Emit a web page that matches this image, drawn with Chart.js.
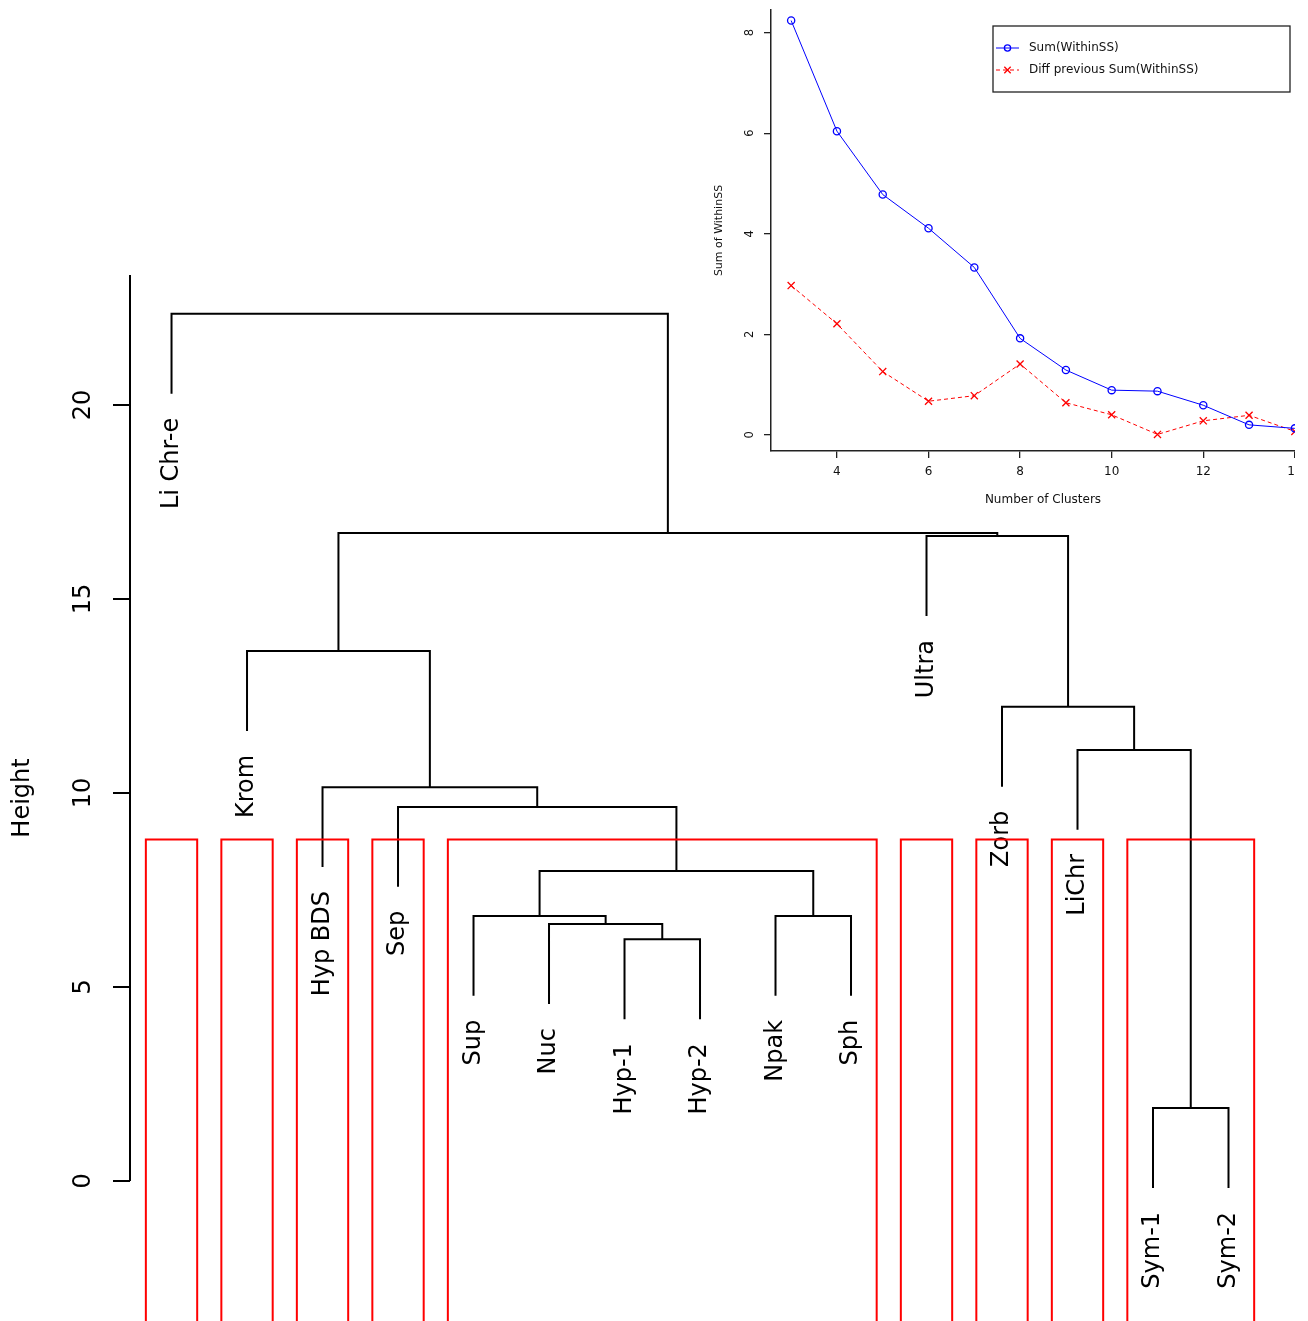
<!DOCTYPE html>
<html>
<head>
<meta charset="utf-8">
<title>Cluster dendrogram</title>
<script src="https://cdn.jsdelivr.net/npm/chart.js@4.4.1/dist/chart.umd.min.js"></script>
<style>
    html, body { margin: 0; padding: 0; background: #fff; overflow: hidden; }
    #main { position: absolute; left: 0; top: 0; }
    #insetBox { position: absolute; left: 700px; top: 0; width: 595px; height: 520px; overflow: hidden; }
</style>
</head>
<body>
<canvas id="main" width="1308" height="1321"></canvas>
<div id="insetBox"><canvas id="inset" width="640" height="520"></canvas></div>
<script>
// Dendrogram data (leaves in plotting order, merges like R's hclust)
const leafLabels = ['Li Chr-e', 'Krom', 'Hyp BDS', 'Sep', 'Sup', 'Nuc', 'Hyp-1', 'Hyp-2',
    'Npak', 'Sph', 'Ultra', 'Zorb', 'LiChr', 'Sym-1', 'Sym-2'];
const merges = [[-14, -15], [-7, -8], [-6, 2], [-9, -10], [-5, 3], [5, 4], [-4, 6], [-3, 7],
    [-13, 1], [-12, 9], [-2, 8], [-11, 10], [11, 12], [-1, 13]];
const mergeHeights = [1.88, 6.23, 6.62, 6.83, 6.83, 7.99, 9.64, 10.15, 11.11, 12.22, 13.66, 16.62, 16.70, 22.35];
const hang = 2.06;
const clusters = [[1, 1], [2, 2], [3, 3], [4, 4], [5, 10], [11, 11], [12, 12], [13, 13], [14, 15]];
const rectTop = 8.8;
const yTicks = [0, 5, 10, 15, 20];

// Inset: elbow plot
const nClusters = [3, 4, 5, 6, 7, 8, 9, 10, 11, 12, 13, 14];
const withinSS = [8.24, 6.04, 4.78, 4.11, 3.33, 1.92, 1.29, 0.89, 0.87, 0.59, 0.20, 0.13];
const diffSS = [2.97, 2.21, 1.26, 0.67, 0.78, 1.41, 0.64, 0.40, 0.01, 0.28, 0.39, 0.07];
const insetXTicks = [4, 6, 8, 10, 12, 14];
const insetYTicks = [0, 2, 4, 6, 8];

Chart.defaults.font.family = '"DejaVu Sans", sans-serif';
Chart.defaults.color = '#000';

const leafEnds = [];

function buildDendrogram() {
    const nodeX = [], nodeY = [];
    const pts = [];
    merges.forEach((m, i) => {
        const h = mergeHeights[i];
        const ends = m.map(c => {
            if (c < 0) {
                leafEnds[-c - 1] = h - hang;
                return { x: -c, y: h - hang };
            }
            return { x: nodeX[c - 1], y: nodeY[c - 1] };
        });
        const [a, b] = ends;
        pts.push({ x: a.x, y: a.y }, { x: a.x, y: h }, { x: b.x, y: h }, { x: b.x, y: b.y }, { x: b.x, y: null });
        nodeX.push((a.x + b.x) / 2);
        nodeY.push(h);
    });
    return pts;
}

function buildRects() {
    const pts = [];
    clusters.forEach(([from, to]) => {
        const l = from - 0.34, r = to + 0.34;
        pts.push({ x: l, y: -5 }, { x: l, y: rectTop }, { x: r, y: rectTop }, { x: r, y: -5 }, { x: r, y: null });
    });
    return pts;
}

const dendroPoints = buildDendrogram();
const rectPoints = buildRects();

// no extra room for rotated first/last tick labels
function noLabelPadding(s) {
    s.paddingTop = 0;
    s.paddingBottom = 0;
}

const leafLabelPlugin = {
    id: 'leafLabels',
    beforeDatasetsDraw(chart) {
        const { ctx, scales: { x, y } } = chart;
        ctx.save();
        ctx.font = '24px "DejaVu Sans"';
        ctx.fillStyle = '#000';
        ctx.textAlign = 'right';
        ctx.textBaseline = 'middle';
        leafLabels.forEach((lab, i) => {
            const px = x.getPixelForValue(i + 1);
            const py = y.getPixelForValue(leafEnds[i]) + 24;
            ctx.save();
            ctx.translate(px, py);
            ctx.rotate(-Math.PI / 2);
            ctx.fillText(lab, 0, 0);
            ctx.restore();
        });
        ctx.restore();
    }
};

const axisLinePlugin = {
    id: 'axisLine',
    afterDraw(chart) {
        const { ctx, chartArea, scales: { y } } = chart;
        ctx.save();
        ctx.strokeStyle = '#000';
        ctx.lineWidth = 2;
        ctx.beginPath();
        ctx.moveTo(chartArea.left, y.getPixelForValue(yTicks[0]));
        ctx.lineTo(chartArea.left, chartArea.top);
        ctx.stroke();
        ctx.restore();
    }
};

new Chart(document.getElementById('main'), {
    type: 'line',
    data: {
        datasets: [
            {
                label: 'clusters',
                data: rectPoints,
                borderColor: '#ff0000',
                borderWidth: 2,
                pointRadius: 0,
                spanGaps: false,
                tension: 0,
                order: 0
            },
            {
                label: 'dendrogram',
                data: dendroPoints,
                borderColor: '#000',
                borderWidth: 2,
                pointRadius: 0,
                spanGaps: false,
                tension: 0,
                order: 1
            }
        ]
    },
    options: {
        responsive: false,
        animation: false,
        layout: { padding: { top: 275, right: 0, bottom: 0, left: 0 } },
        plugins: { legend: { display: false }, tooltip: { enabled: false } },
        scales: {
            x: { type: 'linear', min: 0.45, max: 16.053, display: false },
            y: {
                type: 'linear',
                min: -3.61,
                max: 23.35,
                afterBuildTicks: s => { s.ticks = yTicks.map(v => ({ value: v })); },
                afterFit: s => { s.width = 130; noLabelPadding(s); },
                border: { display: false },
                grid: { drawOnChartArea: false, drawTicks: true, tickLength: 17, color: '#000', lineWidth: 2 },
                ticks: {
                    font: { size: 24 },
                    color: '#000',
                    minRotation: 90,
                    maxRotation: 90,
                    autoSkip: false,
                    crossAlign: 'center',
                    padding: 14
                },
                title: { display: true, text: 'Height', font: { size: 24 }, color: '#000', padding: { top: 8 } }
            }
        }
    },
    plugins: [leafLabelPlugin, axisLinePlugin]
});

const insetLegend = {
    id: 'insetLegend',
    afterDraw(chart) {
        const ctx = chart.ctx;
        const box = { left: 293, top: 26, width: 297, height: 66 };
        ctx.save();
        ctx.fillStyle = '#fff';
        ctx.fillRect(box.left, box.top, box.width, box.height);
        ctx.strokeStyle = '#222';
        ctx.lineWidth = 1.3;
        ctx.strokeRect(box.left, box.top, box.width, box.height);
        ctx.font = '12px "DejaVu Sans"';
        ctx.textBaseline = 'middle';
        ctx.textAlign = 'left';
        chart.data.datasets.forEach((ds, i) => {
            const yy = box.top + 22 + i * 22;
            ctx.strokeStyle = ds.borderColor;
            ctx.lineWidth = ds.borderWidth;
            ctx.setLineDash(ds.borderDash || []);
            ctx.beginPath();
            ctx.moveTo(box.left + 3, yy);
            ctx.lineTo(box.left + 26, yy);
            ctx.stroke();
            ctx.setLineDash([]);
            ctx.fillStyle = ds.pointBackgroundColor;
            ctx.strokeStyle = ds.pointBorderColor;
            ctx.lineWidth = ds.pointBorderWidth;
            Chart.helpers.drawPoint(ctx, {
                pointStyle: ds.pointStyle,
                radius: ds.pointRadius - 0.5,
                borderWidth: ds.pointBorderWidth,
                rotation: 0
            }, box.left + 14.5, yy);
            ctx.fillStyle = '#111';
            ctx.fillText(ds.label, box.left + 36, yy);
        });
        ctx.restore();
    }
};

new Chart(document.getElementById('inset'), {
    type: 'line',
    data: {
        datasets: [
            {
                label: 'Sum(WithinSS)',
                data: nClusters.map((k, i) => ({ x: k, y: withinSS[i] })),
                borderColor: '#0000ff',
                borderWidth: 1,
                pointStyle: 'circle',
                pointRadius: 3.6,
                pointBorderColor: '#0000ff',
                pointBackgroundColor: 'rgba(255,255,255,0)',
                pointBorderWidth: 1.3,
                tension: 0
            },
            {
                label: 'Diff previous Sum(WithinSS)',
                data: nClusters.map((k, i) => ({ x: k, y: diffSS[i] })),
                borderColor: '#ff0000',
                borderWidth: 1,
                borderDash: [4, 3],
                pointStyle: 'crossRot',
                pointRadius: 5,
                pointBorderColor: '#ff0000',
                pointBackgroundColor: 'rgba(255,255,255,0)',
                pointBorderWidth: 1.3,
                tension: 0
            }
        ]
    },
    options: {
        responsive: false,
        animation: false,
        layout: { padding: { top: 10, right: 25, bottom: 0, left: 0 } },
        plugins: { legend: { display: false }, tooltip: { enabled: false } },
        scales: {
            x: {
                type: 'linear',
                min: 2.56,
                max: 14.44,
                afterBuildTicks: s => { s.ticks = insetXTicks.map(v => ({ value: v })); },
                afterFit: s => { s.height = 69; s.paddingLeft = 0; s.paddingRight = 0; },
                border: { display: true, color: '#222', width: 1.5 },
                grid: { drawOnChartArea: false, drawTicks: true, tickLength: 7, color: '#222', lineWidth: 1.3 },
                ticks: { font: { size: 12 }, color: '#111', padding: 7, maxRotation: 0, autoSkip: false },
                title: { display: true, text: 'Number of Clusters', font: { size: 12 }, color: '#111', padding: { bottom: 13 } }
            },
            y: {
                type: 'linear',
                min: -0.32,
                max: 8.45,
                afterBuildTicks: s => { s.ticks = insetYTicks.map(v => ({ value: v })); },
                afterFit: s => { s.width = 71; noLabelPadding(s); },
                border: { display: true, color: '#222', width: 1.5 },
                grid: { drawOnChartArea: false, drawTicks: true, tickLength: 7, color: '#222', lineWidth: 1.3 },
                ticks: {
                    font: { size: 11.5 },
                    color: '#111',
                    minRotation: 90,
                    maxRotation: 90,
                    autoSkip: false,
                    crossAlign: 'center',
                    padding: 10
                },
                title: { display: true, text: 'Sum of WithinSS', font: { size: 11 }, color: '#111', padding: { top: 13 } }
            }
        }
    },
    plugins: [insetLegend]
});
</script>
</body>
</html>
